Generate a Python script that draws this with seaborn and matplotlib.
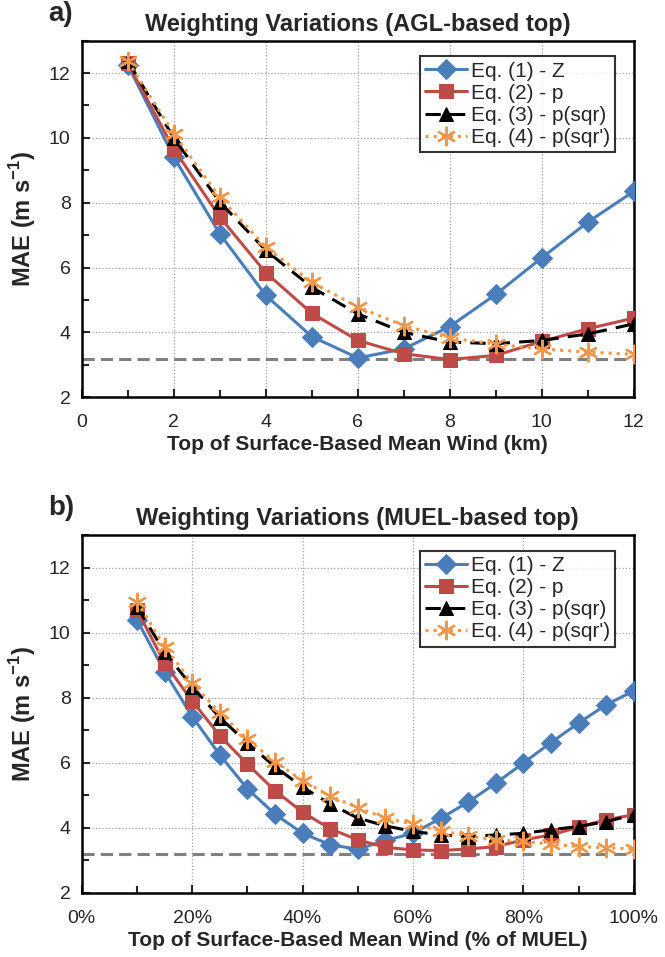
import numpy as np
import pandas as pd
import matplotlib
matplotlib.use("Agg")
import matplotlib.pyplot as plt
from matplotlib.ticker import MultipleLocator, FuncFormatter
import seaborn as sns

# -----------------------------
# Data
# -----------------------------

km_top = [1, 2, 3, 4, 5, 6, 7, 8, 9, 10, 11, 12]
agl_eq1 = [12.25, 9.41, 7.04, 5.14, 3.87, 3.21, 3.49, 4.18, 5.17, 6.30, 7.40, 8.35]
agl_eq2 = [12.30, 9.66, 7.56, 5.84, 4.59, 3.75, 3.34, 3.16, 3.29, 3.72, 4.11, 4.44]
agl_eq3 = [12.37, 10.00, 8.02, 6.53, 5.39, 4.57, 4.00, 3.70, 3.65, 3.75, 3.95, 4.26]
agl_eq4 = [12.37, 10.13, 8.17, 6.63, 5.55, 4.78, 4.21, 3.83, 3.63, 3.49, 3.39, 3.32]

pct_top = [10, 15, 20, 25, 30, 35, 40, 45, 50, 55, 60, 65, 70, 75, 80, 85, 90, 95, 100]
muel_eq1 = [10.39, 8.80, 7.42, 6.24, 5.20, 4.42, 3.83, 3.48, 3.34, 3.61, 3.83, 4.29,
            4.79, 5.37, 5.99, 6.62, 7.22, 7.78, 8.21]
muel_eq2 = [10.70, 9.06, 7.90, 6.83, 5.96, 5.14, 4.48, 3.97, 3.63, 3.40, 3.32, 3.30,
            3.35, 3.42, 3.63, 3.78, 4.02, 4.25, 4.40]
muel_eq3 = [10.80, 9.40, 8.34, 7.39, 6.60, 5.88, 5.25, 4.73, 4.30, 4.06, 3.89, 3.78,
            3.73, 3.78, 3.83, 3.94, 4.04, 4.19, 4.40]
muel_eq4 = [10.95, 9.57, 8.45, 7.54, 6.72, 6.03, 5.45, 4.98, 4.62, 4.30, 4.11, 3.91,
            3.75, 3.63, 3.58, 3.50, 3.42, 3.39, 3.35]

baseline_mae = 3.18

labels = ["Eq. (1) - Z", "Eq. (2) - p", "Eq. (3) - p(sqr)", "Eq. (4) - p(sqr')"]

# -----------------------------
# Style
# -----------------------------

sns.set_style("ticks")
plt.rcParams["font.family"] = ["Liberation Sans", "DejaVu Sans"]
plt.rcParams["mathtext.fontset"] = "custom"
plt.rcParams["mathtext.rm"] = "Liberation Sans"
plt.rcParams["mathtext.bf"] = "Liberation Sans:bold"

styles = [
    dict(color="#4A7EBB", marker="D", markersize=10, linestyle="-", linewidth=2.2,
         markeredgecolor="#4A7EBB"),
    dict(color="#BE4B48", marker="s", markersize=10, linestyle="-", linewidth=2.2,
         markeredgecolor="#BE4B48"),
    dict(color="black", marker="^", markersize=10, linestyle=(0, (5, 3)), linewidth=2.2,
         markeredgecolor="black"),
    dict(color="#F79646", marker=(6, 2, 0), markersize=14, linestyle=":", linewidth=2.2,
         markeredgewidth=1.6, markeredgecolor="#F79646"),
]

fig = plt.figure(figsize=(6.65, 9.57), dpi=100)
ax_a = fig.add_axes([0.123, 0.585, 0.830, 0.3725])
ax_b = fig.add_axes([0.123, 0.067, 0.830, 0.374])


def draw_panel(ax, x, series, title, xlabel, tag):
    ax.axhline(baseline_mae, color="#808080", linestyle=(0, (4, 2)), linewidth=2.2, zorder=1)
    for y, lab, st in zip(series, labels, styles):
        sns.lineplot(x=x, y=y, ax=ax, label=lab, zorder=3, **st)

    ax.set_ylim(2, 13)
    ax.yaxis.set_major_locator(MultipleLocator(2))
    ax.yaxis.set_minor_locator(MultipleLocator(1))
    ax.grid(True, which="major", color="#A0A0A0", linestyle=":", linewidth=0.9)

    for side in ax.spines.values():
        side.set_linewidth(1.8)
        side.set_color("black")

    ax.tick_params(axis="both", which="both", direction="in", labelsize=14,
                   top=False, right=False, width=1.5)
    ax.tick_params(axis="both", which="major", length=6, pad=8)
    ax.tick_params(axis="x", which="major", pad=12)
    ax.tick_params(axis="both", which="minor", length=5)

    ax.set_title(title, fontsize=17, fontweight="bold", pad=7)
    ax.set_xlabel(xlabel, fontsize=15, fontweight="bold", labelpad=3)
    ax.set_ylabel(r"MAE (m s$^{\mathbf{-1}}$)", fontsize=17, fontweight="bold", labelpad=8)
    ax.text(-0.06, 1.075, tag, transform=ax.transAxes, fontsize=20,
            fontweight="bold", ha="left", va="center")

    leg = ax.legend(loc="upper right", bbox_to_anchor=(0.985, 0.985), fontsize=15,
                    frameon=True, fancybox=False, edgecolor="black",
                    handlelength=2.0, handletextpad=0.2, borderpad=0.25,
                    labelspacing=0.15)
    leg.get_frame().set_linewidth(1.5)


draw_panel(ax_a, km_top, [agl_eq1, agl_eq2, agl_eq3, agl_eq4],
           "Weighting Variations (AGL-based top)",
           "Top of Surface-Based Mean Wind (km)", "a)")
ax_a.set_xlim(0, 12)
ax_a.xaxis.set_major_locator(MultipleLocator(2))
ax_a.xaxis.set_minor_locator(MultipleLocator(1))

draw_panel(ax_b, pct_top, [muel_eq1, muel_eq2, muel_eq3, muel_eq4],
           "Weighting Variations (MUEL-based top)",
           "Top of Surface-Based Mean Wind (% of MUEL)", "b)")
ax_b.set_xlim(0, 100)
ax_b.xaxis.set_major_locator(MultipleLocator(20))
ax_b.xaxis.set_minor_locator(MultipleLocator(10))
ax_b.xaxis.set_major_formatter(FuncFormatter(lambda v, p: f"{v:.0f}%"))

plt.savefig("out.png", dpi=100)
